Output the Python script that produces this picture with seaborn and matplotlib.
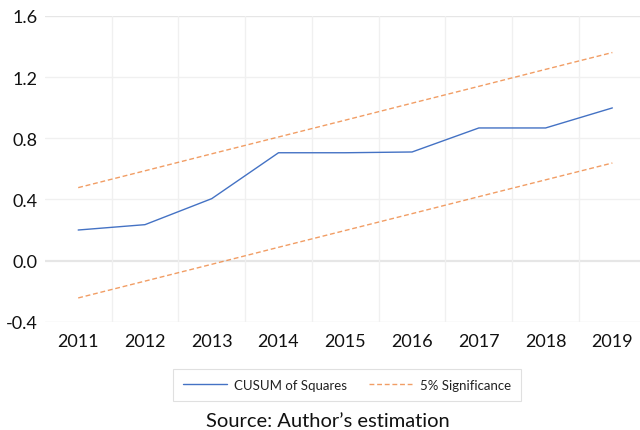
import numpy as np
import pandas as pd
import matplotlib
matplotlib.use("Agg")
import matplotlib.pyplot as plt
import seaborn as sns

years = [2011, 2012, 2013, 2014, 2015, 2016, 2017, 2018, 2019]
cusum_sq = [0.20, 0.235, 0.405, 0.705, 0.705, 0.71, 0.867, 0.867, 0.998]
upper = [0.477, 0.587, 0.698, 0.808, 0.918, 1.029, 1.139, 1.250, 1.360]
lower = [-0.244, -0.134, -0.024, 0.087, 0.197, 0.307, 0.418, 0.528, 0.638]
y_ticks = [-0.4, 0.0, 0.4, 0.8, 1.2, 1.6]

sns.set_style("white")
plt.rcParams["font.family"] = ["Lato", "DejaVu Sans"]

df = pd.DataFrame({"year": years, "cusum": cusum_sq, "upper": upper, "lower": lower})

fig = plt.figure(figsize=(6.4, 4.31), dpi=100)
ax = fig.add_axes([0.070, 0.251, 0.939, 0.710])

blue = "#4472C4"

sns.lineplot(data=df, x="year", y="cusum", ax=ax, color=blue, linewidth=1.0,
             label="CUSUM of Squares")
sns.lineplot(data=df, x="year", y="upper", ax=ax, color="#ED7D31", alpha=0.75,
             linewidth=1.0, linestyle=(0, (3.5, 2)), label="5% Significance")
sns.lineplot(data=df, x="year", y="lower", ax=ax, color="#ED7D31", alpha=0.75,
             linewidth=1.0, linestyle=(0, (3.5, 2)), label="_nolegend_")

ax.set_xlim(2010.5, 2019.5)
ax.set_ylim(-0.4, 1.6)
ax.set_xticks(years)
ax.set_xticklabels([str(y) for y in years], fontsize=13, color="#111111")
ax.set_xticks([y + 0.5 for y in years[:-1]], minor=True)
ax.set_yticks(y_ticks)
ax.set_yticklabels([f"{v:.1f}" for v in y_ticks], fontsize=13, color="#111111")
ax.tick_params(axis="both", which="both", length=0)
ax.tick_params(axis="x", pad=8)
ax.tick_params(axis="y", pad=5)

for v in y_ticks:
    lw = 1.6 if v == 0.0 else 1.0
    col = "#e6e6e6" if v in (0.0, -0.4, 1.6) else "#f0f0f0"
    ax.axhline(v, color=col, linewidth=lw, zorder=0)
ax.grid(which="minor", axis="x", color="#f0f0f0", linewidth=1.0, zorder=0)
ax.grid(which="major", axis="x", visible=False)

for s in ax.spines.values():
    s.set_visible(False)

ax.set_xlabel("")
ax.set_ylabel("")

leg = ax.legend(loc="center", bbox_to_anchor=(0.503, -0.206),
                bbox_transform=ax.transAxes, ncol=2, frameon=True, fancybox=False,
                fontsize=9.5, handlelength=3.3, handletextpad=0.6, columnspacing=1.6,
                borderpad=0.75, edgecolor="#d9d9d9")
leg.get_frame().set_linewidth(0.8)
for t in leg.get_texts():
    t.set_color("#222222")

fig.text(0.513, 0.022, "Source: Author\u2019s estimation", ha="center", va="center",
         fontsize=14.5, color="#111111")

fig.savefig("out.png", dpi=100)
